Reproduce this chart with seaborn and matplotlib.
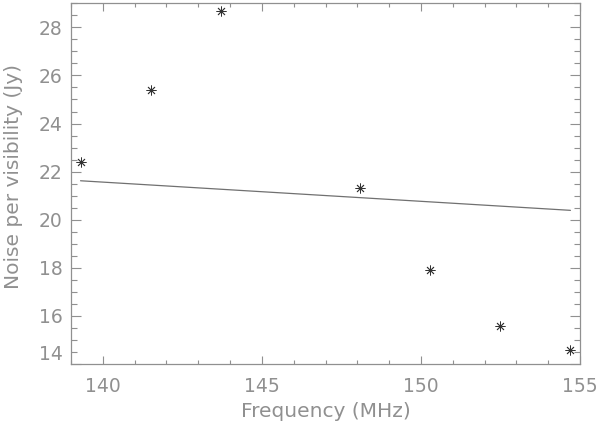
import numpy as np
import pandas as pd
import matplotlib
matplotlib.use("Agg")
import matplotlib.pyplot as plt
from matplotlib.ticker import MultipleLocator
import seaborn as sns

# frequency channels (MHz) and measured noise per visibility (Jy)
freq = [139.3, 141.5, 143.7, 148.1, 150.3, 152.5, 154.7]
noise = [22.4, 25.4, 28.7, 21.3, 17.9, 15.6, 14.6]

# fitted trend line
fit_freq = [139.3, 154.7]
fit_noise = [21.62, 20.39]

x_ticks = [140, 145, 150, 155]
y_ticks = [14, 16, 18, 20, 22, 24, 26, 28]

sns.set_style("ticks")
plt.rcParams['font.family'] = ['DejaVu Sans']

grey = "#909090"

df = pd.DataFrame({'freq': freq, 'noise': noise})
fit = pd.DataFrame({'freq': fit_freq, 'noise': fit_noise})

fig = plt.figure(figsize=(6, 4.28), dpi=100)
ax = fig.add_axes([71/600, 1 - 364/428, (580-71)/600, (364-3.3)/428])

sns.lineplot(data=fit, x='freq', y='noise', color="#707070", linewidth=0.9, ax=ax)
sns.scatterplot(data=df, x='freq', y='noise', marker=(8, 2, 0), s=45,
                color="#333333", linewidth=0.6, ax=ax)

ax.set_xlim(139, 155)
ax.set_ylim(14, 29)
ax.set_xticks(x_ticks)
ax.set_yticks(y_ticks)
ax.xaxis.set_minor_locator(MultipleLocator(1))
ax.yaxis.set_minor_locator(MultipleLocator(0.5))

ax.tick_params(axis='both', which='both', direction='in', colors=grey,
               top=True, right=True, width=0.8, labelsize=13.5, labelcolor=grey)
ax.tick_params(axis='x', which='major', length=5.5, pad=9)
ax.tick_params(axis='x', which='minor', length=3)
ax.tick_params(axis='y', which='major', length=7.5, pad=6)
ax.tick_params(axis='y', which='minor', length=4.5)

for s in ax.spines.values():
    s.set_color(grey)
    s.set_linewidth(0.9)

# bottom label sits just above the axis line, as in the original
for lab in ax.get_yticklabels():
    if lab.get_text() == '14':
        lab.set_va('bottom')

ax.set_xlabel('Frequency (MHz)', fontsize=14.5, color=grey, labelpad=5)
ax.set_ylabel('Noise per visibility (Jy)', fontsize=14.5, color=grey, va='center')
ax.yaxis.set_label_coords(-0.112, 0.52)

fig.savefig('out.png', dpi=100)
